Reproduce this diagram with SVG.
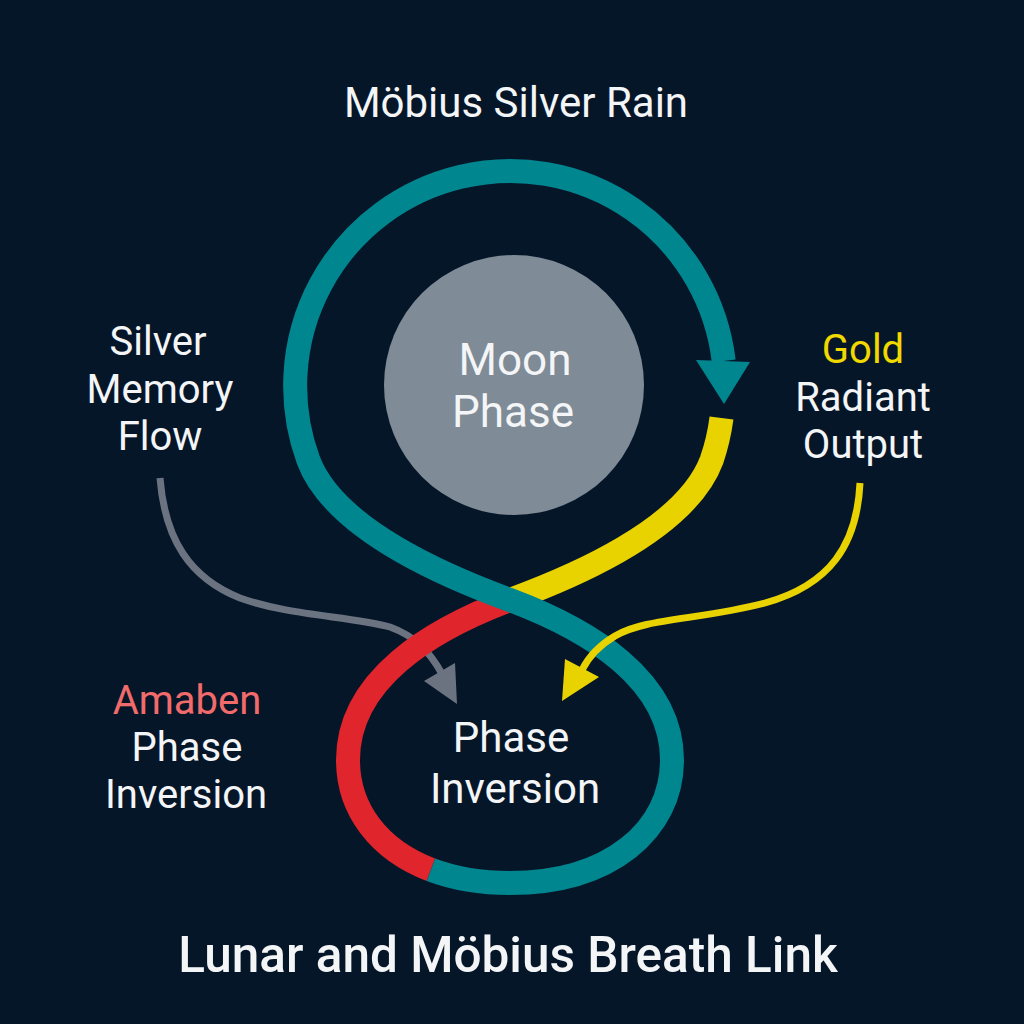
<svg xmlns="http://www.w3.org/2000/svg" width="1024" height="1024" viewBox="0 0 1024 1024">
  <style>
    .lbl { font-family: Roboto, "Noto Sans", "DejaVu Sans", sans-serif; font-size: 40px; fill: #f3f5f7; text-anchor: middle; }
    .band { fill: none; stroke-width: 24; stroke-linecap: butt; }
    .thin { fill: none; stroke-width: 7; stroke-linecap: butt; }
    .teal { stroke: #00868f; }
    .gold { stroke: #e8d300; }
    .red { stroke: #e0262c; }
    .grey { stroke: #6b7380; }
  </style>

  <rect width="1024" height="1024" fill="#061629"/>

  <!-- figure-eight ribbon and pointer arrows -->
  <g id="connectors">
    <!-- grey pointer from the silver label (runs under the red ribbon) -->
    <g id="silver-flow-arrow">
      <path class="thin grey" d="M160,478 C165,540 190,578 240,598 C290,616 350,616 390,627 C415,636 430,652 442,674"/>
      <polygon points="424,681 455,663 457,704" fill="#6b7380"/>
    </g>
    <!-- red lower-left arc of the bottom loop -->
    <path id="red-arc" class="band red" d="M510,600 C430,630 348,680 348,760 C348,809 378.4,849.7 430.9,869.7"/>
    <!-- gold arc descending from the top loop to the crossing -->
    <path id="gold-arc" class="band gold" d="M721.5,418 A215,215 0 0 1 711.7,460 C685.5,530.3 570,578 510,600"/>
    <!-- teal ribbon: bottom loop, crossing over, then the top circle -->
    <g id="teal-ribbon">
      <path class="band teal" d="M430.9,869.7 C453.4,878.2 480,883 510,883 C610,883 672,830 672,760 C672,680 590,630 510,600 C450,578 334.5,530.3 308.3,460 A215,215 0 1 1 723.7,361"/>
      <polygon points="696,360 750,362 724,404" fill="#00868f"/>
    </g>
    <!-- gold pointer from the radiant output label (runs over the teal ribbon) -->
    <g id="gold-output-arrow">
      <path class="thin gold" d="M860,483 C857,545 830,585 765,603 C700,620 645,618 615,636 C598,646 588,658 582,670"/>
      <polygon points="565,659 599,677 562,701" fill="#e8d300"/>
    </g>
  </g>

  <g id="moon-phase">
    <circle cx="514" cy="385" r="130" fill="#7f8b96"/>
    <text class="lbl" x="515" y="375" style="font-size:44px">Moon</text>
    <text class="lbl" x="513" y="427" style="font-size:44px">Phase</text>
  </g>

  <g id="silver-rain">
    <text class="lbl" x="516" y="117" style="font-size:42px">Möbius Silver Rain</text>
  </g>

  <g id="silver-memory">
    <text class="lbl" x="158" y="355">Silver</text>
    <text class="lbl" x="160" y="403">Memory</text>
    <text class="lbl" x="160" y="450">Flow</text>
  </g>

  <g id="gold-output">
    <text class="lbl" x="863" y="363" style="fill:#f0d800">Gold</text>
    <text class="lbl" x="863" y="411">Radiant</text>
    <text class="lbl" x="863" y="458">Output</text>
  </g>

  <g id="amaben">
    <text class="lbl" x="187" y="714" style="fill:#f26b6b">Amaben</text>
    <text class="lbl" x="187" y="761">Phase</text>
    <text class="lbl" x="186" y="808">Inversion</text>
  </g>

  <g id="phase-inversion">
    <text class="lbl" x="511" y="752" style="font-size:42px">Phase</text>
    <text class="lbl" x="515" y="803" style="font-size:42px">Inversion</text>
  </g>

  <g id="title">
    <text class="lbl" x="508" y="972" style="font-size:49.5px;font-weight:500">Lunar and Möbius Breath Link</text>
  </g>
</svg>
